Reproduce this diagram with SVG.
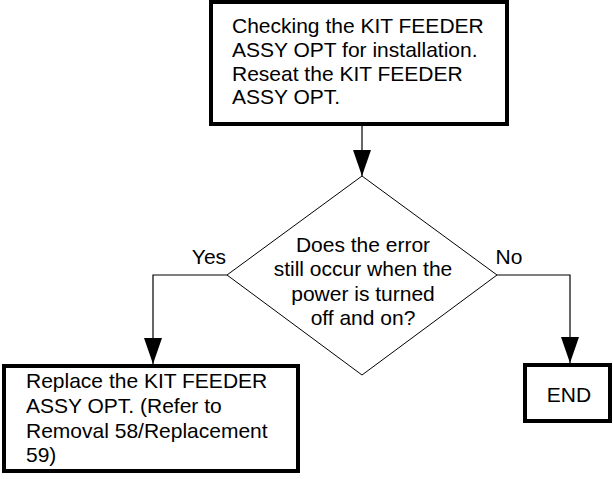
<svg xmlns="http://www.w3.org/2000/svg" width="613" height="479" viewBox="0 0 613 479">
  <style>
    .box { fill: #ffffff; stroke: #000000; stroke-width: 4; }
    .decision { fill: #ffffff; stroke: #000000; stroke-width: 1; }
    .link { fill: none; stroke: #000000; stroke-width: 1.2; }
    text { font-family: "Liberation Sans", Arial, sans-serif; font-size: 21px; fill: #000000; }
    .mid { text-anchor: middle; }
  </style>
  <defs>
    <marker id="arrow" markerUnits="userSpaceOnUse" markerWidth="26" markerHeight="18" viewBox="0 0 26 18" refX="26" refY="9" orient="auto">
      <path d="M0,0 L26,9 L0,18 z" fill="#000000"/>
    </marker>
  </defs>

  <!-- connectors -->
  <g id="connectors">
    <path class="link" d="M362,124 L362,176" marker-end="url(#arrow)"/>
    <path class="link" d="M227,275 L153,275 L153,364" marker-end="url(#arrow)"/>
    <path class="link" d="M497,275 L570,275 L570,363" marker-end="url(#arrow)"/>
    <text x="209" y="264" class="mid">Yes</text>
    <text x="509" y="264" class="mid">No</text>
  </g>

  <!-- check / reseat step -->
  <g id="node-check">
    <rect class="box" x="211" y="2" width="296" height="122"/>
    <text x="232" y="33">Checking the KIT FEEDER</text>
    <text x="232" y="57">ASSY OPT for installation.</text>
    <text x="232" y="80.5">Reseat the KIT FEEDER</text>
    <text x="232" y="104">ASSY OPT.</text>
  </g>

  <!-- decision -->
  <g id="node-decision">
    <polygon class="decision" points="362,176 497,275 362,375 227,275"/>
    <text x="363" y="252" class="mid">Does the error</text>
    <text x="363" y="276" class="mid">still occur when the</text>
    <text x="363" y="300.5" class="mid">power is turned</text>
    <text x="363" y="325" class="mid">off and on?</text>
  </g>

  <!-- replace step -->
  <g id="node-replace">
    <rect class="box" x="4" y="366" width="294" height="105"/>
    <text x="26" y="388">Replace the KIT FEEDER</text>
    <text x="26" y="413">ASSY OPT. (Refer to</text>
    <text x="26" y="438">Removal 58/Replacement</text>
    <text x="26" y="462">59)</text>
  </g>

  <!-- terminal -->
  <g id="node-end">
    <rect class="box" x="525" y="365" width="85" height="56"/>
    <text x="569" y="402" class="mid">END</text>
  </g>
</svg>
